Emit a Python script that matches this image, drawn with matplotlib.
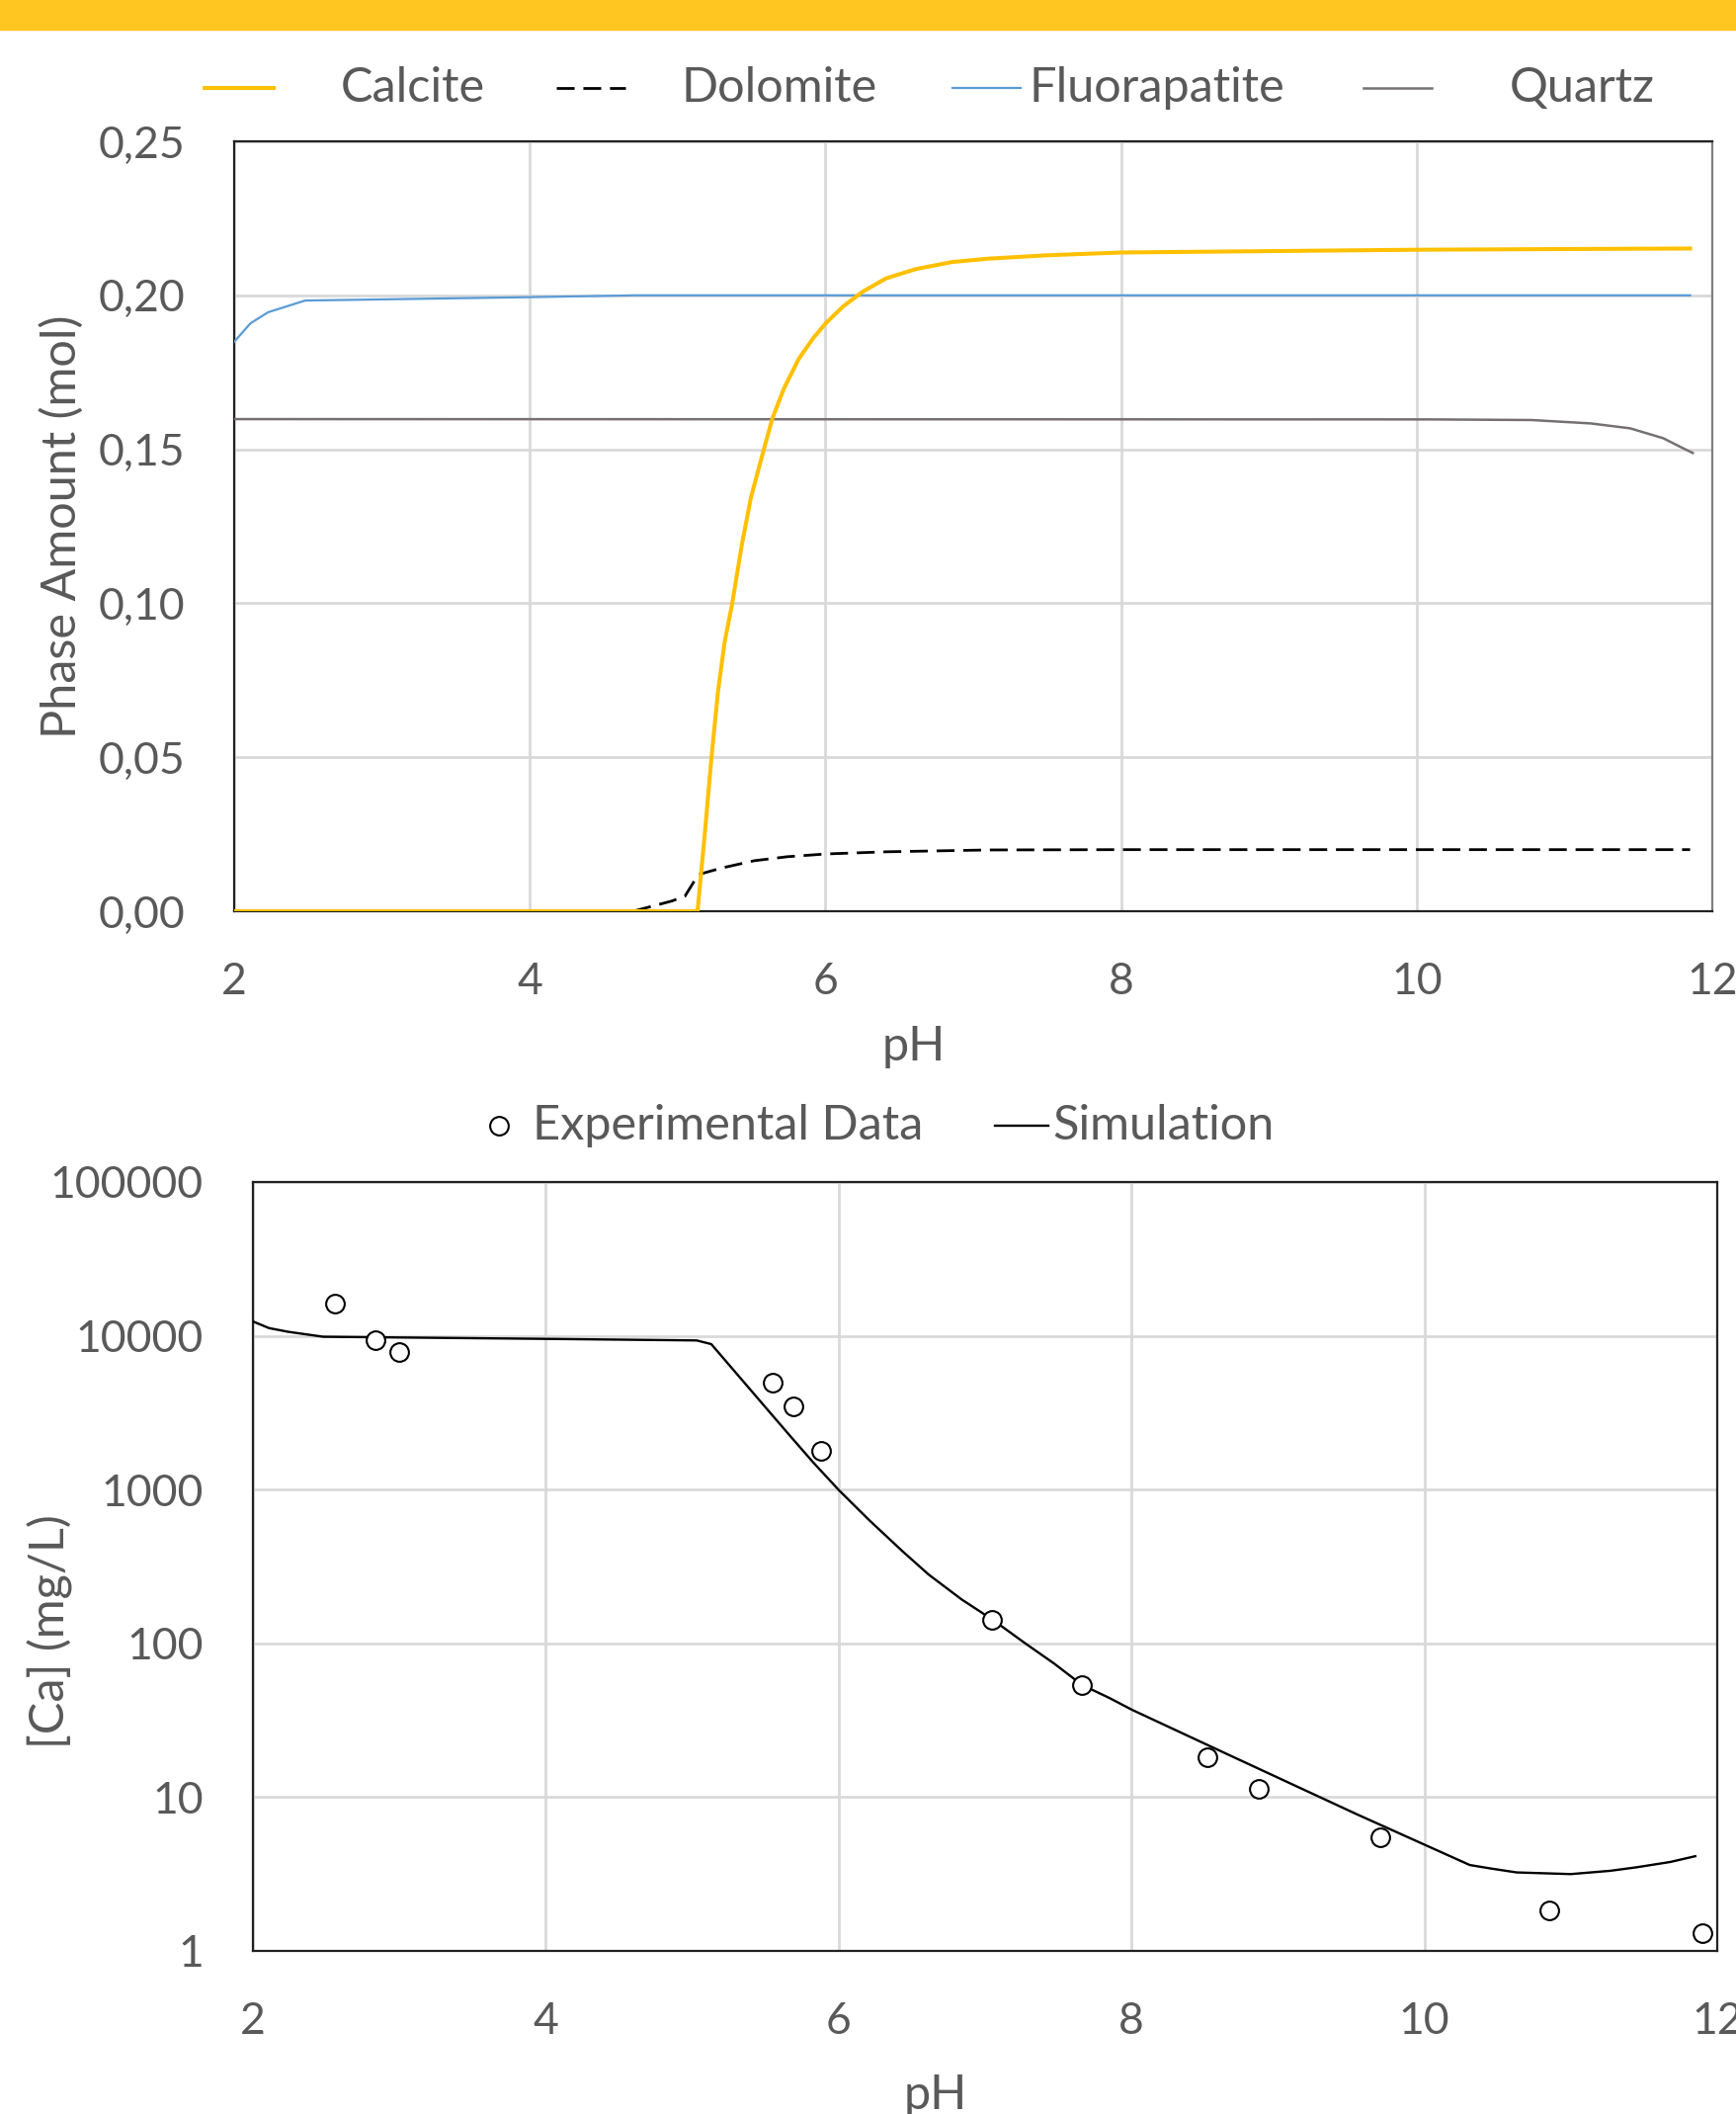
import numpy as np
import matplotlib
matplotlib.use("Agg")
import matplotlib.pyplot as plt
from matplotlib.lines import Line2D
from matplotlib.patches import Rectangle
from matplotlib.ticker import FixedLocator, FuncFormatter

plt.rcParams['font.family'] = ['Lato', 'DejaVu Sans']

# --- données ---
# phases (mol) en fonction du pH
calcite_ph = [2.0, 5.135, 5.184, 5.229, 5.273, 5.318, 5.369, 5.436, 5.496, 5.574, 5.641, 5.719,
              5.819, 5.919, 6.004, 6.12, 6.253, 6.41, 6.61, 6.855, 7.10, 7.5, 8.0, 10.0, 11.85]
calcite = [0.0, 0.0, 0.0252, 0.0498, 0.0712, 0.0873, 0.0998, 0.1194, 0.1343, 0.1483, 0.160,
           0.1697, 0.1793, 0.1862, 0.191, 0.1964, 0.2012, 0.2055, 0.2085, 0.2108, 0.2119,
           0.213, 0.2139, 0.2148, 0.2152]

dolomite_ph = [2.0, 4.70, 4.96, 5.05, 5.14, 5.295, 5.518, 5.741, 6.004, 6.41, 7.10, 8.0, 11.85]
dolomite = [0.0, 0.0, 0.0033, 0.0049, 0.0119, 0.0140, 0.0164, 0.0177, 0.0186, 0.0193, 0.0199,
            0.0200, 0.0200]

fluorapatite_ph = [2.0, 2.11, 2.23, 2.48, 4.0, 4.72, 11.85]
fluorapatite = [0.1849, 0.1909, 0.1945, 0.1983, 0.1994, 0.2, 0.2]

quartz_ph = [2.0, 10.108, 10.777, 11.178, 11.445, 11.668, 11.80, 11.868]
quartz = [0.1598, 0.1597, 0.1595, 0.1584, 0.1568, 0.1536, 0.1504, 0.1488]

# [Ca] (mg/L)
simu_ph = [2.0, 2.11, 2.24, 2.48, 4.0, 5.03, 5.13, 5.536, 5.671, 5.828, 6.001, 6.21, 6.435,
           6.615, 6.84, 7.054, 7.268, 7.47, 7.663, 7.852, 8.003, 8.63, 9.54, 10.31, 10.45,
           10.63, 11.0, 11.27, 11.45, 11.68, 11.85]
simu_ca = [12400, 11220, 10620, 9860, 9550, 9330, 8830, 3130, 2220, 1496, 993, 631, 398,
           280, 193, 142, 101, 74.1, 53.6, 44.0, 37.0, 19.5, 7.73, 3.62, 3.44,
           3.24, 3.16, 3.32, 3.50, 3.79, 4.13]

exp_ph = [2.56, 2.84, 3.0, 5.55, 5.69, 5.88, 7.05, 7.66, 8.52, 8.87, 9.70, 10.85, 11.9]
exp_ca = [16300, 9380, 7850, 4980, 3470, 1790, 143, 53.5, 18.2, 11.3, 5.45, 1.84, 1.30]

ph_ticks = [2, 4, 6, 8, 10, 12]
phase_ticks = [0.0, 0.05, 0.10, 0.15, 0.20, 0.25]
ca_ticks = [1, 10, 100, 1000, 10000, 100000]

gris_txt = '#595959'
grille = '#D9D9D9'
fs = 32      # graduations
fs_t = 35    # titres d'axes et légendes

fig = plt.figure(figsize=(17.57, 21.39), dpi=100)
W, H = 1757, 2139

# bandeau jaune en haut
fig.patches.append(Rectangle((0, 1 - 30 / H), 1, 30 / H, transform=fig.transFigure,
                             color='#FFC520', zorder=0))


def ax_px(x0, y0, x1, y1):
    return fig.add_axes([x0 / W, 1 - y1 / H, (x1 - x0) / W, (y1 - y0) / H])


def habille(ax):
    ax.grid(True, color=grille, lw=2)
    ax.set_axisbelow(True)
    ax.tick_params(axis='both', length=0, labelsize=fs, labelcolor=gris_txt)
    ax.tick_params(axis='x', pad=37)
    ax.tick_params(axis='y', pad=36)
    for s in ax.spines.values():
        s.set_color('#222222')
        s.set_linewidth(1.6)


# ---------- graphe du haut ----------
ax1 = ax_px(237, 143, 1733, 922)
l_cal, = ax1.plot(calcite_ph, calcite, color='#FFC000', lw=2.9, zorder=4)
l_dol, = ax1.plot(dolomite_ph, dolomite, color='black', lw=2.0, dashes=(6.5, 3.2), zorder=3)
l_flu, = ax1.plot(fluorapatite_ph, fluorapatite, color='#5B9BD5', lw=1.6, zorder=3)
l_qtz, = ax1.plot(quartz_ph, quartz, color='#767171', lw=1.8, zorder=3)
ax1.set_xlim(2, 12)
ax1.set_ylim(0, 0.25)
ax1.xaxis.set_major_locator(FixedLocator(ph_ticks))
ax1.yaxis.set_major_locator(FixedLocator(phase_ticks))
ax1.yaxis.set_major_formatter(FuncFormatter(lambda v, p: f"{v:.2f}".replace('.', ',')))
habille(ax1)
ax1.spines['right'].set_color('#7F7F7F')
ax1.set_xlabel('pH', fontsize=fs_t, color=gris_txt)
ax1.set_ylabel('Phase Amount (mol)', fontsize=fs_t, color=gris_txt)
ax1.xaxis.set_label_coords(0.46, -0.147)
ax1.yaxis.set_label_coords(-0.102, 0.5)

# légende manuelle (positions en pixels)
yl = 1 - 89 / H
for ligne, (xa, xb), xt, nom in [(l_cal, (207, 277), 345, 'Calcite'),
                                 (l_dol, (563, 633), 690, 'Dolomite'),
                                 (l_flu, (964, 1033), 1041, 'Fluorapatite'),
                                 (l_qtz, (1380, 1449), 1528, 'Quartz')]:
    cle = Line2D([xa / W, xb / W], [yl, yl], transform=fig.transFigure,
                 color=ligne.get_color(), lw=ligne.get_linewidth())
    if ligne is l_dol:
        cle.set_dashes((6.5, 3.2))
    fig.add_artist(cle)
    fig.text(xt / W, yl, nom, fontsize=fs_t, color=gris_txt, va='center', ha='left')

# ---------- graphe du bas ----------
ax2 = ax_px(256, 1196, 1738, 1974)
l_sim, = ax2.plot(simu_ph, simu_ca, color='black', lw=1.7, zorder=3)
l_exp, = ax2.plot(exp_ph, exp_ca, 'o', ms=13.5, mfc='white', mec='black', mew=1.5,
                  zorder=4, clip_on=False)
ax2.set_yscale('log')
ax2.set_xlim(2, 12)
ax2.set_ylim(1, 100000)
ax2.xaxis.set_major_locator(FixedLocator(ph_ticks))
ax2.yaxis.set_major_locator(FixedLocator(ca_ticks))
ax2.yaxis.set_minor_locator(FixedLocator([]))
ax2.yaxis.set_major_formatter(FuncFormatter(lambda v, p: f"{v:.0f}"))
habille(ax2)
ax2.set_xlabel('pH', fontsize=fs_t, color=gris_txt)
ax2.set_ylabel('[Ca] (mg/L)', fontsize=fs_t, color=gris_txt)
ax2.xaxis.set_label_coords(0.466, -0.159)
ax2.yaxis.set_label_coords(-0.1225, 0.416)

yl2 = 1 - 1139 / H
fig.add_artist(Line2D([505 / W], [yl2], transform=fig.transFigure, marker='o', ms=13.5,
                      mfc='white', mec='black', mew=1.5, linestyle='none'))
fig.text(539 / W, yl2, 'Experimental Data', fontsize=fs_t, color=gris_txt, va='center')
fig.add_artist(Line2D([1007 / W, 1061 / W], [yl2, yl2], transform=fig.transFigure,
                      color='black', lw=1.7))
fig.text(1065 / W, yl2, 'Simulation', fontsize=fs_t, color=gris_txt, va='center')

fig.savefig('out.png', dpi=100)
